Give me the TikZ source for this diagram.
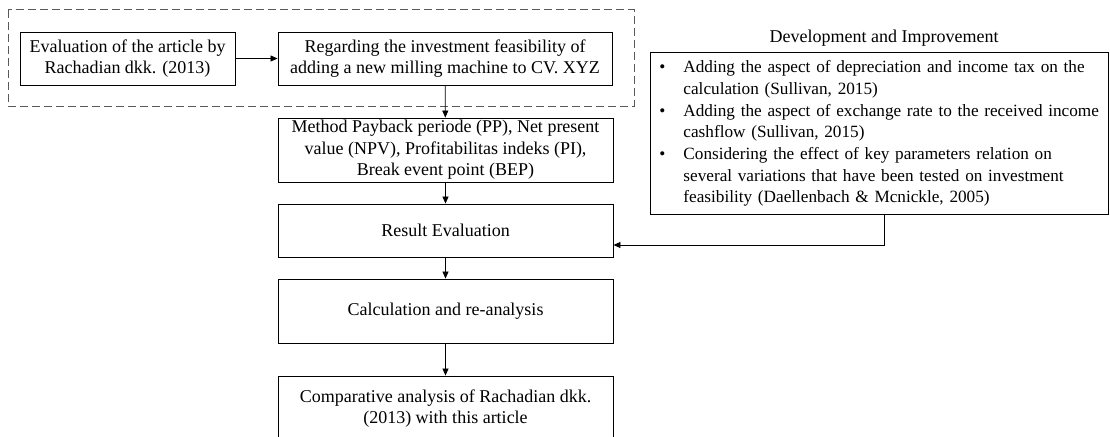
\documentclass[tikz,border=0pt]{standalone}
\usepackage{fontspec}
\setmainfont{Liberation Serif}
\usetikzlibrary{arrows.meta}

\begin{document}
\begin{tikzpicture}[x=1pt,y=-1pt,
		box/.style={draw, line width=0.9pt, inner sep=0pt, align=center, font=\fontsize{18}{21.5}\selectfont},
		flow/.style={-{Triangle[length=7pt,width=6pt]}, line width=0.8pt}]
			\useasboundingbox (0,0) rectangle (1110,436);

			% group of the first two steps
			\draw[black!65, line width=1pt, dash pattern=on 8pt off 4pt] (8,10) rectangle (634,106);

			\node[box, minimum width=215, minimum height=53] (eval) at (127.5,58.5) {Evaluation of the article by\\Rachadian dkk. (2013)};
			\node[box, minimum width=334, minimum height=53] (regard) at (445,58.5) {Regarding the investment feasibility of\\adding a new milling machine to CV. XYZ};
			\node[box, minimum width=335, minimum height=64] (method) at (445.5,150) {Method Payback periode (PP), Net present\\value (NPV), Profitabilitas indeks (PI),\\Break event point (BEP)};
			\node[box, minimum width=335, minimum height=53] (result) at (445.5,230.5) {Result Evaluation};
			\node[box, minimum width=335, minimum height=64] (calc) at (445.5,311) {Calculation and re-analysis};
			\node[box, minimum width=335, minimum height=65] (comp) at (445.5,408.5) {Comparative analysis of Rachadian dkk.\\(2013) with this article};

			\node[font=\fontsize{18}{21.5}\selectfont] (devtitle) at (884,38) {Development and Improvement};
			\node[box, anchor=north west, text width=440, inner xsep=9pt, minimum height=162, align=left,
				font=\fontsize{17.2}{21.7}\selectfont] (dev) at (650,52) {%
				\begin{tabular}{@{}p{24pt}@{}l@{}}
					\textbullet & Adding the aspect of depreciation and income tax on the\\
					& calculation (Sullivan, 2015)\\
					\textbullet & Adding the aspect of exchange rate to the received income\\
					& cashflow (Sullivan, 2015)\\
					\textbullet & Considering the effect of key parameters relation on\\
					& several variations that have been tested on investment\\
					& feasibility (Daellenbach \& Mcnickle, 2005)
				\end{tabular}};

			% connectors
			\draw[flow] (eval) -- (regard);
			\draw[flow] (regard) -- (method);
			\draw[flow] (method) -- (result);
			\draw[flow] (result) -- (calc);
			\draw[flow] (calc) -- (comp);
			\coordinate (turn) at (884,245);
			\draw[flow] (dev.south -| turn) -- (turn) -- (result.east |- turn);
		\end{tikzpicture}
\end{document}
